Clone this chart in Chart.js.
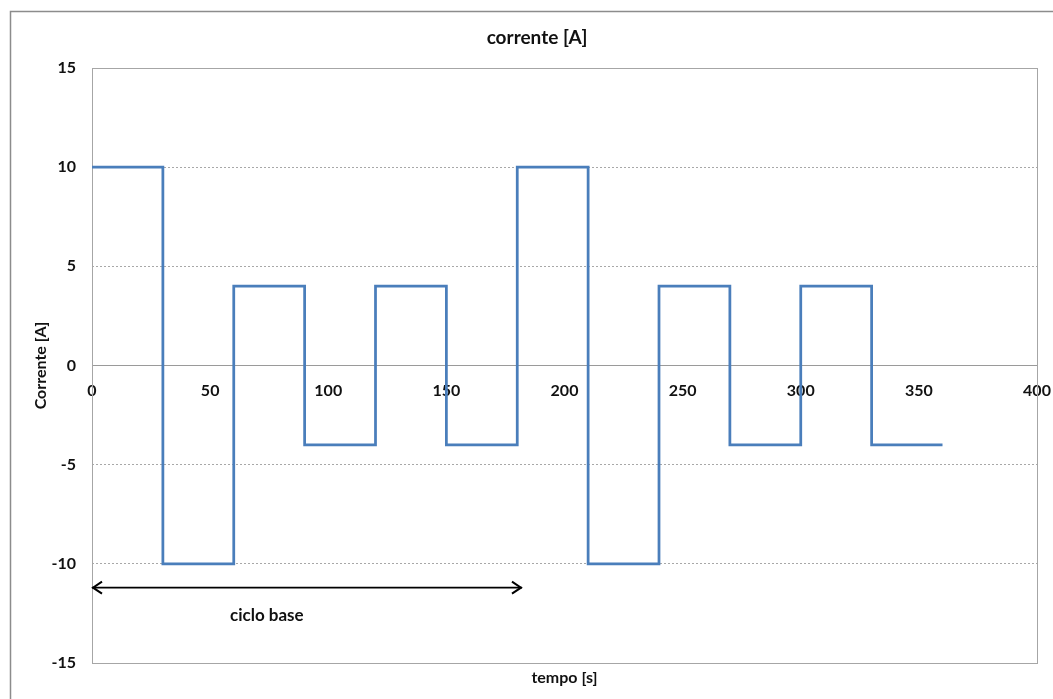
<!DOCTYPE html>
<html>
<head>
<meta charset="utf-8">
<script src="https://cdn.jsdelivr.net/npm/chart.js@4.4.1/dist/chart.umd.min.js"></script>
<style>
  html, body { margin: 0; padding: 0; background: #fff; }
  #wrap { width: 1053px; height: 699px; }
</style>
</head>
<body>
<div id="wrap"><canvas id="chart" width="1053" height="699"></canvas></div>
<script>
// time breakpoints [s] and the current held from each one on
const tempo = [0, 30, 60, 90, 120, 150, 180, 210, 240, 270, 300, 330, 360];
const corrente = [10, -10, 4, -4, 4, -4, 10, -10, 4, -4, 4, -4, -4];

// axis ticks
const xTicks = [0, 50, 100, 150, 200, 250, 300, 350, 400];
const yTicks = [-15, -10, -5, 0, 5, 10, 15];

// "ciclo base" double arrow and its label
const cicloX = [0, 182];
const cicloY = -11.2;
const cicloLabel = 'ciclo base';
const cicloLabelX = 74;
const cicloLabelY = -12.6;

const chartTitle = 'corrente [A]';
const FONT = 'Lato';

// white background, outer chart border, title and plot area frame
const framePlugin = {
    id: 'frame',
    beforeDraw(chart) {
        const ctx = chart.ctx;
        ctx.save();
        ctx.fillStyle = '#fff';
        ctx.fillRect(0, 0, chart.width, chart.height);
        ctx.strokeStyle = '#8c8c8c';
        ctx.lineWidth = 1.5;
        ctx.strokeRect(10.5, 11.5, 1100, 800);

        // Excel centres the title on the whole chart box, which is a bit wider than the canvas
        ctx.fillStyle = '#111';
        ctx.font = 'bold 19px ' + FONT;
        ctx.textAlign = 'center';
        ctx.textBaseline = 'middle';
        ctx.fillText(chartTitle, 537, 38);
        ctx.restore();
    },
    beforeDatasetsDraw(chart) {
        const { ctx, chartArea: a } = chart;
        ctx.save();
        ctx.strokeStyle = '#a6a6a6';
        ctx.lineWidth = 1;
        ctx.strokeRect(Math.round(a.left) + 0.5, Math.round(a.top) + 0.5,
            Math.round(a.right - a.left), Math.round(a.bottom - a.top));
        ctx.restore();
    }
};

// arrow heads + label for the base cycle
const arrowPlugin = {
    id: 'arrows',
    afterDatasetsDraw(chart) {
        const ctx = chart.ctx;
        const xs = chart.scales.x;
        const ys = chart.scales.y;
        const y = ys.getPixelForValue(cicloY);
        const x0 = xs.getPixelForValue(cicloX[0]);
        const x1 = xs.getPixelForValue(cicloX[1]);
        ctx.save();
        ctx.strokeStyle = '#000';
        ctx.lineWidth = 2;
        ctx.beginPath();
        ctx.moveTo(x0 + 10, y - 6);
        ctx.lineTo(x0 + 1, y);
        ctx.lineTo(x0 + 10, y + 6);
        ctx.moveTo(x1 - 10, y - 6);
        ctx.lineTo(x1 - 1, y);
        ctx.lineTo(x1 - 10, y + 6);
        ctx.stroke();

        ctx.fillStyle = '#111';
        ctx.font = 'bold 17px ' + FONT;
        ctx.textAlign = 'center';
        ctx.textBaseline = 'middle';
        ctx.fillText(cicloLabel, xs.getPixelForValue(cicloLabelX), ys.getPixelForValue(cicloLabelY));
        ctx.restore();
    }
};

new Chart(document.getElementById('chart'), {
    type: 'line',
    data: {
        datasets: [{
            label: 'corrente',
            data: tempo.map((t, i) => ({ x: t, y: corrente[i] })),
            stepped: 'before',
            borderColor: '#4a7ebb',
            borderWidth: 2.75,
            pointRadius: 0,
            fill: false
        }, {
            label: 'ciclo base',
            data: cicloX.map(x => ({ x: x, y: cicloY })),
            borderColor: '#000',
            borderWidth: 1.8,
            pointRadius: 0,
            fill: false
        }]
    },
    options: {
        responsive: false,
        animation: false,
        layout: { padding: { top: 68, left: 20, right: 16, bottom: 0 } },
        plugins: {
            legend: { display: false },
            tooltip: { enabled: false },
            title: { display: false }
        },
        scales: {
            x: {
                type: 'linear',
                position: { y: 0 },
                min: 0,
                max: 400,
                afterBuildTicks: s => { s.ticks = xTicks.map(v => ({ value: v })); },
                afterFit: s => { s.height = 0; s.paddingLeft = 0; s.paddingRight = 0; },
                ticks: {
                    color: '#111',
                    padding: 16,
                    font: { family: FONT, size: 16, weight: 'bold' }
                },
                grid: { display: false, drawTicks: false },
                border: { display: true, color: '#9a9a9a', width: 1 }
            },
            x2: {
                type: 'linear',
                position: 'bottom',
                min: 0,
                max: 400,
                afterFit: s => { s.height = 36; s.paddingLeft = 0; s.paddingRight = 0; },
                ticks: { display: false },
                grid: { display: false, drawTicks: false },
                border: { display: false },
                title: {
                    display: true,
                    text: 'tempo [s]',
                    color: '#111',
                    font: { family: FONT, size: 16, weight: 'bold' },
                    padding: { top: 0, bottom: 12 }
                }
            },
            y: {
                type: 'linear',
                position: 'left',
                min: -15,
                max: 15,
                afterBuildTicks: s => { s.ticks = yTicks.map(v => ({ value: v })); },
                afterFit: s => { s.width = 72; s.paddingTop = 0; s.paddingBottom = 0; },
                ticks: {
                    color: '#111',
                    padding: 16,
                    font: { family: FONT, size: 16, weight: 'bold' }
                },
                grid: { color: '#a8a8a8', lineWidth: 1, drawTicks: false },
                border: { display: false, dash: [2, 2] },
                title: {
                    display: true,
                    text: 'Corrente [A]',
                    color: '#111',
                    font: { family: FONT, size: 16, weight: 'bold' },
                    padding: { top: 11, bottom: 0 }
                }
            }
        }
    },
    plugins: [framePlugin, arrowPlugin]
});
</script>
</body>
</html>
